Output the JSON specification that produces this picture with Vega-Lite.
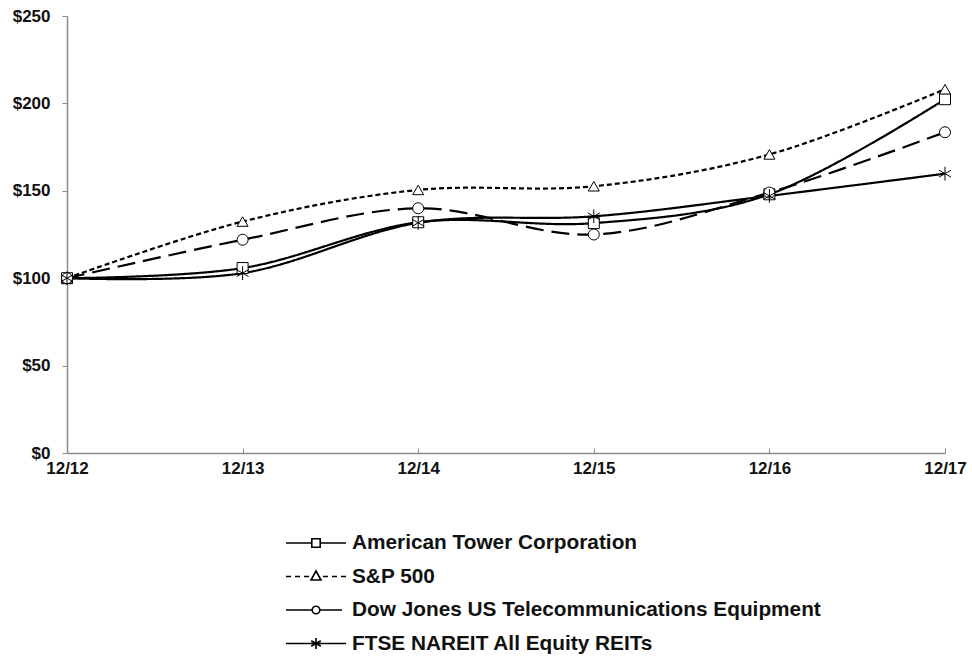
{
  "$schema": "https://vega.github.io/schema/vega-lite/v6.json",
  "width": 878,
  "height": 437,
  "autosize": {"type": "none"},
  "padding": {"left": 67, "top": 16, "right": 27, "bottom": 205},
  "background": "white",
  "config": {
    "view": {"stroke": null},
    "font": "Liberation Sans",
    "axis": {"labelFont": "Liberation Sans", "labelFontWeight": "bold", "labelFontSize": 17, "labelColor": "#111", "domainColor": "#8c8c8c", "tickColor": "#8c8c8c", "domainWidth": 1.5, "tickWidth": 1, "grid": false, "title": null}
  },
  "data": {
    "values": [
      {"period": "12/12", "series": "American Tower Corporation", "value": 100},
      {"period": "12/13", "series": "American Tower Corporation", "value": 105.8},
      {"period": "12/14", "series": "American Tower Corporation", "value": 132},
      {"period": "12/15", "series": "American Tower Corporation", "value": 131.5},
      {"period": "12/16", "series": "American Tower Corporation", "value": 148},
      {"period": "12/17", "series": "American Tower Corporation", "value": 202.4},
      {"period": "12/12", "series": "S&P 500", "value": 100},
      {"period": "12/13", "series": "S&P 500", "value": 132.4},
      {"period": "12/14", "series": "S&P 500", "value": 150.5},
      {"period": "12/15", "series": "S&P 500", "value": 152.6},
      {"period": "12/16", "series": "S&P 500", "value": 170.8},
      {"period": "12/17", "series": "S&P 500", "value": 208.1},
      {"period": "12/12", "series": "Dow Jones US Telecommunications Equipment", "value": 100},
      {"period": "12/13", "series": "Dow Jones US Telecommunications Equipment", "value": 122},
      {"period": "12/14", "series": "Dow Jones US Telecommunications Equipment", "value": 140},
      {"period": "12/15", "series": "Dow Jones US Telecommunications Equipment", "value": 125},
      {"period": "12/16", "series": "Dow Jones US Telecommunications Equipment", "value": 149},
      {"period": "12/17", "series": "Dow Jones US Telecommunications Equipment", "value": 183.5},
      {"period": "12/12", "series": "FTSE NAREIT All Equity REITs", "value": 100},
      {"period": "12/13", "series": "FTSE NAREIT All Equity REITs", "value": 102.9},
      {"period": "12/14", "series": "FTSE NAREIT All Equity REITs", "value": 131.7},
      {"period": "12/15", "series": "FTSE NAREIT All Equity REITs", "value": 135.4},
      {"period": "12/16", "series": "FTSE NAREIT All Equity REITs", "value": 147.1},
      {"period": "12/17", "series": "FTSE NAREIT All Equity REITs", "value": 159.8}
    ]
  },
  "encoding": {
    "x": {
      "field": "period", "type": "ordinal",
      "scale": {"type": "point", "padding": 0},
      "axis": {"labelAngle": 0, "tickSize": -5, "labelPadding": 12, "labelBaseline": "top"}
    },
    "y": {
      "field": "value", "type": "quantitative",
      "scale": {"domain": [0, 250], "nice": false, "zero": true},
      "axis": {"values": [0, 50, 100, 150, 200, 250], "format": "$.0f", "tickSize": 5, "labelPadding": 12}
    }
  },
  "layer": [
    {
      "mark": {"type": "line", "interpolate": "cardinal", "color": "black", "strokeWidth": 2.2},
      "encoding": {
        "detail": {"field": "series"},
        "strokeDash": {
          "field": "series", "type": "nominal",
          "scale": {
            "domain": ["American Tower Corporation", "S&P 500", "Dow Jones US Telecommunications Equipment", "FTSE NAREIT All Equity REITs"],
            "range": [[1, 0], [5, 3], [18, 8], [1, 0]]
          },
          "legend": null
        }
      }
    },
    {
      "mark": {"type": "point", "filled": true, "fill": "white", "stroke": "black", "strokeWidth": 1, "size": 121, "opacity": 1},
      "encoding": {
        "shape": {
          "field": "series", "type": "nominal",
          "scale": {
            "domain": ["American Tower Corporation", "S&P 500", "Dow Jones US Telecommunications Equipment", "FTSE NAREIT All Equity REITs"],
            "range": ["square", "triangle-up", "circle", "M0,-1.25V1.25M-1.08,-0.62L1.08,0.62M-1.08,0.62L1.08,-0.62"]
          },
          "legend": null
        }
      }
    },
    {
      "transform": [{"filter": "datum.value > 1000"}],
      "mark": {"type": "point", "filled": false, "color": "black", "strokeWidth": 1.6, "size": 400, "opacity": 1},
      "encoding": {
        "shape": {
          "field": "series", "type": "nominal",
          "scale": {
            "domain": ["American Tower Corporation", "S&P 500", "Dow Jones US Telecommunications Equipment", "FTSE NAREIT All Equity REITs"],
            "range": [
              "M-3,0H-0.42M0.42,0H3M-0.42,-0.42H0.42V0.42H-0.42Z",
              "M-3,0H-2.5M-2.1,0H-1.6M-1.2,0H-0.7M0.7,0H1.2M1.6,0H2.1M2.5,0H3M0,-0.55L0.5,0.35H-0.5Z",
              "M-3,0H-0.38M0.38,0H2.6M0.38,0A0.38,0.38 0 1,1 -0.38,0A0.38,0.38 0 1,1 0.38,0Z",
              "M-3,0H3M0,-0.55V0.55M-0.48,-0.28L0.48,0.28M-0.48,0.28L0.48,-0.28"
            ]
          },
          "legend": {
            "title": null,
            "orient": "none",
            "legendX": 238,
            "legendY": 516,
            "direction": "vertical",
            "padding": 0,
            "rowPadding": 12.5,
            "symbolSize": 400,
            "symbolStrokeWidth": 1.6,
            "symbolStrokeColor": "black",
            "symbolOpacity": 1,
            "labelOffset": 25,
            "labelFont": "Liberation Sans",
            "labelFontWeight": "bold",
            "labelFontSize": 20.8,
            "labelColor": "#111",
            "labelLimit": 700
          }
        }
      }
    }
  ],
  "resolve": {"scale": {"shape": "independent"}, "legend": {"shape": "independent"}}
}
